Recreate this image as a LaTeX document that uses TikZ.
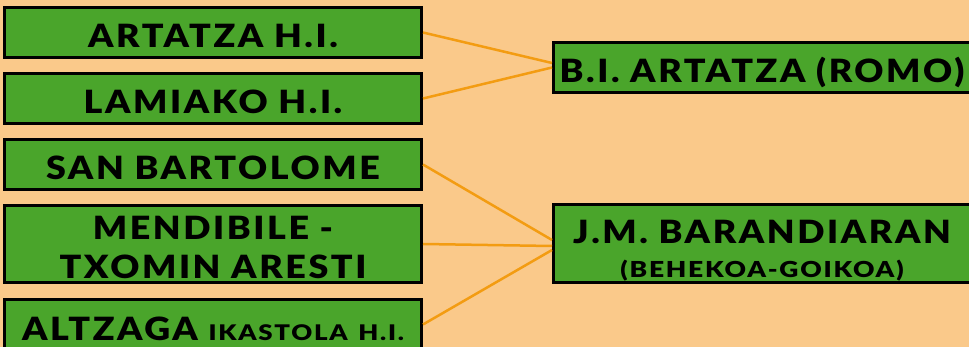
\documentclass[tikz,border=0pt]{standalone}
\usepackage{fontspec}
\setmainfont{Lato}
\newfontfamily\schoolfont[LetterSpace=8,FakeStretch=1.12]{Lato Black}
\newfontfamily\schoolsmall[LetterSpace=8,FakeStretch=1.2]{Lato Black}
\usetikzlibrary{positioning}
\definecolor{peach}{HTML}{FAC98A}
\definecolor{schoolgreen}{HTML}{4AA52B}
\definecolor{linkorange}{HTML}{F39C12}
\tikzset{
	school/.style = {draw=black, line width=3pt, fill=schoolgreen, rectangle,
		minimum width=417pt, inner xsep=0pt, inner ysep=0pt,
		text height=40.5pt, text depth=9.5pt, align=center, text width=417pt,
		font=\schoolfont\fontsize{32}{39}\selectfont},
	twoline/.style = {school, text height=34.5pt, text depth=42.5pt},
	link/.style = {draw=linkorange, line width=2.5pt}
}
\begin{document}
\begin{tikzpicture}[x=1pt, y=-1pt]
		\path[use as bounding box, fill=peach] (0,0) rectangle (969,347);
		\clip (0,0) rectangle (969,347);
		
		% primary schools, left column
		\node[school, anchor=north west] (artatza) at (3,6) {ARTATZA H.I.};
		\node[school, below=13pt of artatza] (lamiako) {LAMIAKO H.I.};
		\node[school, below=13pt of lamiako] (bartolome) {SAN BARTOLOME};
		\node[twoline, below=13pt of bartolome] (mendibile) {MENDIBILE -\\TXOMIN ARESTI};
		\node[school, below=14pt of mendibile] (altzaga) {ALTZAGA {\schoolsmall\fontsize{21.5}{26}\selectfont IKASTOLA H.I.}};
		% secondary schools, right column
		\node[school, anchor=north west] (romo) at (552,41) {B.I. ARTATZA (ROMO)};
		\node[twoline, anchor=north west, text height=39.5pt, text depth=38.5pt] (barandiaran) at (552,203)
			{J.M. BARANDIARAN\\[-5pt]{\schoolsmall\fontsize{22}{26}\selectfont (BEHEKOA-GOIKOA)}};
		
		\draw[link] (artatza.east) -- ([yshift=4.5pt]romo.west);
		\draw[link] (lamiako.east) -- (romo.west);
		\draw[link] (bartolome.east) -- ([yshift=3.5pt]barandiaran.west);
		\draw[link] (mendibile.east) -- ([yshift=-2.5pt]barandiaran.west);
		\draw[link] (altzaga.east) -- ([yshift=-6.5pt]barandiaran.west);
	\end{tikzpicture}
\end{document}
